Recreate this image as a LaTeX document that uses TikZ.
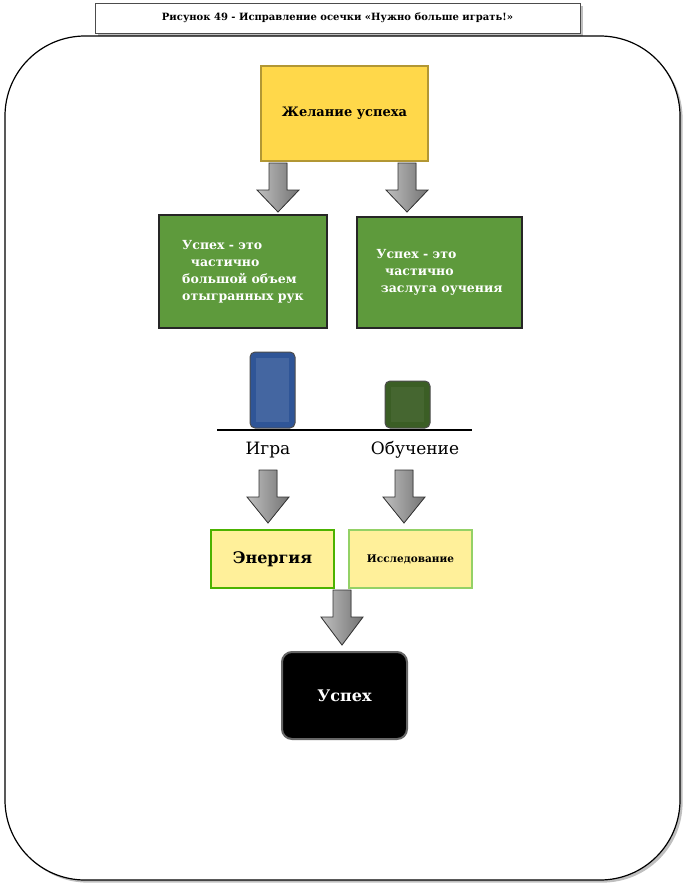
\documentclass[tikz,border=0pt]{standalone}
\usepackage{fontspec}
\setmainfont{DejaVu Serif}
\usetikzlibrary{shadows}
\definecolor{gold}{HTML}{FFD84A}
\definecolor{grn}{HTML}{5E9A3C}
\definecolor{lyel}{HTML}{FFF09A}
\definecolor{blu}{HTML}{2F5597}
\definecolor{dgrn}{HTML}{3B5E25}
\newcommand{\grayarr}[3]{%
 \fill[draw=black!80, line width=0.8pt, shading=axis, left color=gray!50, right color=gray!90!black]
 (#1-9,#2) -- (#1+9,#2) -- (#1+9,#2+27) -- (#1+21,#2+27) -- (#1,#3) -- (#1-21,#2+27) -- (#1-9,#2+27) -- cycle;}
\begin{document}
\begin{tikzpicture}[x=1pt,y=-1pt,
 bar/.style={rounded corners=5pt, draw=black!70, line width=1pt}]
\useasboundingbox (0,0) rectangle (685,884);
\node[draw=black!70, line width=1pt, fill=white, minimum width=485, minimum height=30, drop shadow, font=\bfseries\fontsize{10}{12}\selectfont] (title) at (337.5,18) {Рисунок 49 - Исправление осечки «Нужно больше играть!»};
\draw[rounded corners=80pt, line width=1.2pt, fill=white, drop shadow] (5,36) rectangle (680,880);
\node[draw=gold!70!black, fill=gold, line width=2.5pt, minimum width=167, minimum height=95, font=\bfseries\fontsize{13}{15}\selectfont] (wish) at (344.5,113.5) {Желание успеха};
\grayarr{278}{163}{212}
\grayarr{407}{163}{212}
\node[draw=black!85, fill=grn, line width=2pt, minimum width=168, minimum height=113, text=white, align=left, font=\bfseries\fontsize{12.5}{17}\selectfont] (g1) at (243,271.5) {Успех - это\\ \ \ частично\\большой объем\\отыгранных рук};
\node[draw=black!85, fill=grn, line width=2pt, minimum width=165, minimum height=111, text=white, align=left, font=\bfseries\fontsize{12.5}{17}\selectfont] (g2) at (439.5,272.5) {Успех - это\\ \ \ частично\\ \ заслуга оучения};
\fill[blu, bar] (250,352) rectangle (295,428);
\fill[blu!90!white] (256,358) rectangle (289,422);
\fill[dgrn, bar] (385,381) rectangle (430,428);
\fill[dgrn!95!white] (391,387) rectangle (424,422);
\draw[line width=2.5pt] (217,430) -- (472,430);
\node[font=\fontsize{17}{19}\selectfont] (igra) at (268,450) {Игра};
\node[font=\fontsize{17}{19}\selectfont] (obuch) at (415,450) {Обучение};
\grayarr{268}{470}{523}
\grayarr{404}{470}{523}
\node[draw=green!40!olive, fill=lyel, line width=1.5pt, minimum width=123, minimum height=58, font=\bfseries\fontsize{16}{18}\selectfont] (en) at (272.5,559) {Энергия};
\node[draw=green!40!olive!60, fill=lyel, line width=1.5pt, minimum width=123, minimum height=58, inner sep=0pt, font=\bfseries\fontsize{10.5}{12}\selectfont] (res) at (410.5,559) {Исследование};
\grayarr{342}{590}{645}
\node[fill=black, draw=black!60, line width=2pt, rounded corners=10pt, minimum width=125, minimum height=87, text=white, font=\bfseries\fontsize{16}{18}\selectfont] (usp) at (344.5,695.5) {Успех};
\end{tikzpicture}
\end{document}
